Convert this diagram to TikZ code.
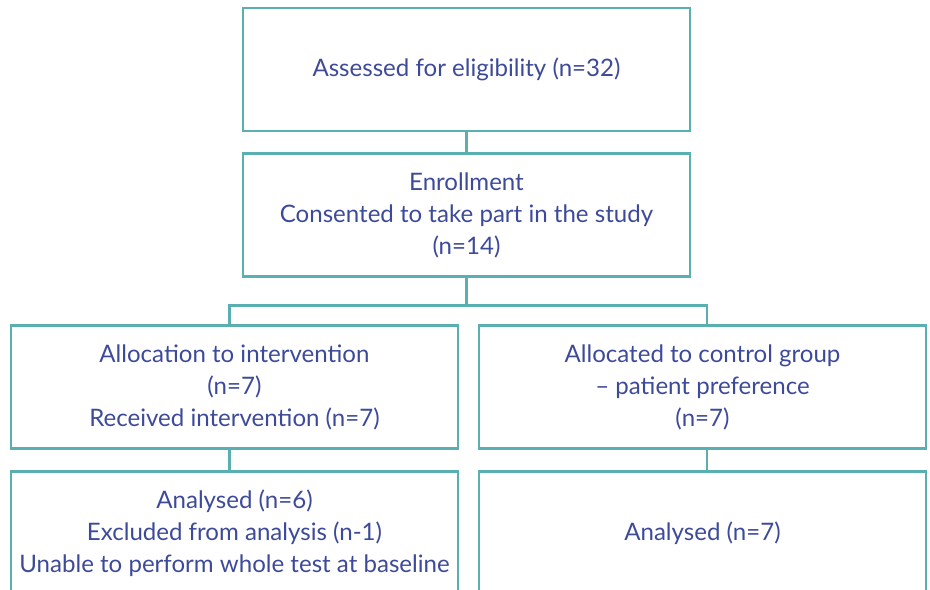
\documentclass[tikz,border=0pt]{standalone}
\usepackage{fontspec}
\setmainfont{Lato}
\usetikzlibrary{positioning}
\definecolor{flowteal}{HTML}{5AAFB1}
\definecolor{flowblue}{HTML}{3D4A99}
\tikzset{
	box/.style = {
		draw=flowteal, line width=1.6pt, text=flowblue,
		minimum width=8.94cm, minimum height=2.46cm,
		align=center, inner sep=0pt,
		font=\fontsize{13.7}{18.2}\selectfont
	}
}

\begin{document}
\begin{tikzpicture}[
		x = 0.02cm, y = -0.02cm,
		node distance = 0.4cm,
		link/.style = {draw=flowteal, line width=1.6pt}
	]
	\useasboundingbox (0,0) rectangle (930,589);
	\clip (0,0) rectangle (930,589);

	\node[box] (assess) at (466.5,69.5) {Assessed for eligibility (n=32)};
	\node[box, below = of assess] (enrol) {Enrollment\\Consented to take part in the study\\(n=14)};
	\node[box] (intv) at (234.5,387) {Allocation to intervention\\(n=7)\\Received intervention (n=7)};
	\node[box] (ctrl) at (702.5,387) {Allocated to control group\\-- patient preference\\(n=7)};
	\node[box, below = of intv] (anint) {Analysed (n=6)\\Excluded from analysis (n-1)\\Unable to perform whole test at baseline};
	\node[box, below = of ctrl] (anctl) {Analysed (n=7)};

	\coordinate[below = 0.54cm of enrol] (split);

	\draw[link] (assess) -- (enrol);
	\draw[link] (enrol) -- (split);
	\draw[link] ([xshift=-0.1cm]intv.north) |- (split) -| ([xshift=0.09cm]ctrl.north);
	\draw[link] ([xshift=-0.1cm]intv.south) -- ([xshift=-0.1cm]anint.north);
	\draw[link] ([xshift=0.09cm]ctrl.south) -- ([xshift=0.09cm]anctl.north);

\end{tikzpicture}
\end{document}
